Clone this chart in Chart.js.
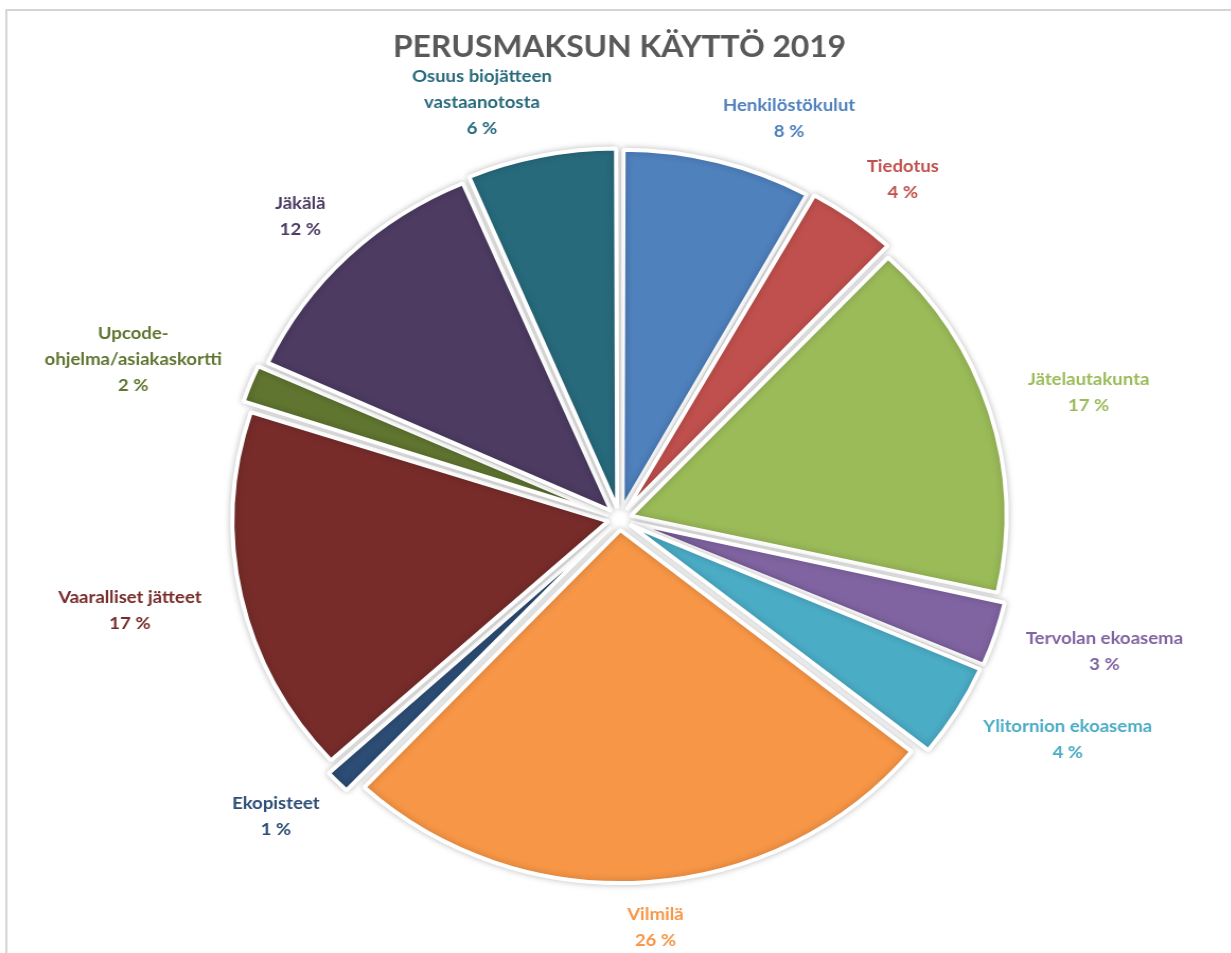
<!DOCTYPE html>
<html>
<head>
<meta charset="utf-8">
<title>Perusmaksun käyttö 2019</title>
<script src="https://cdn.jsdelivr.net/npm/chart.js@4.4.0/dist/chart.umd.min.js"></script>
<style>
  html, body { margin: 0; padding: 0; background: #fff; overflow: hidden; }
  /* alkuperäinen kuva on hieman leveämpi kuin korkea -> venytetään vaakasuunnassa */
  #wrap { position: relative; width: 1161px; height: 953px; transform: scaleX(1.06); transform-origin: 0 0; }
</style>
</head>
<body>
<div id="wrap"><canvas id="pie"></canvas></div>
<script>
// Luokat (rivitys kuten alkuperäisessä kuvassa)
const categories = [
  'Henkilöstökulut',
  'Tiedotus',
  'Jätelautakunta',
  'Tervolan ekoasema',
  'Ylitornion ekoasema',
  'Vilmilä',
  'Ekopisteet',
  'Vaaralliset jätteet',
  ['Upcode-', 'ohjelma/asiakaskortti'],
  'Jäkälä',
  ['Osuus biojätteen', 'vastaanotosta']
];

// Osuudet prosentteina (arvioitu kuvasta)
const shares = [8.1, 3.9, 16.5, 3.0, 4.3, 26.2, 1.2, 16.8, 1.8, 11.8, 6.4];

const sliceColors = [
  '#4F81BD', '#C0504D', '#9BBB59', '#8064A2', '#4BACC6', '#F79646',
  '#2C4D75', '#772C2A', '#5F7530', '#4D3B62', '#276A7C'
];

const FONT = 'Lato, "Open Sans", sans-serif';
const SLICE_OFFSET = 44; // Chart.js v4 siirtää sektoria offset/4 pikseliä

// Harmaa kehys kaavion ympärillä
const frame = {
  id: 'frame',
  beforeDraw(chart) {
    const { ctx } = chart;
    ctx.save();
    ctx.strokeStyle = '#d4d4d4';
    ctx.lineWidth = 2;
    ctx.strokeRect(6, 10, chart.width + 20, chart.height + 20);
    ctx.restore();
  }
};

// Pehmeä varjo sektoreille
const shadow = {
  id: 'shadow',
  beforeDatasetsDraw(chart) {
    const { ctx } = chart;
    ctx.save();
    ctx.shadowColor = 'rgba(0,0,0,0.22)';
    ctx.shadowBlur = 7;
  },
  afterDatasetsDraw(chart) {
    chart.ctx.restore();
  }
};

// Selitteet sektorien ulkopuolelle
const outsideLabels = {
  id: 'outsideLabels',
  afterDatasetsDraw(chart) {
    const { ctx } = chart;
    const meta = chart.getDatasetMeta(0);
    const lineH = 26;
    const clamp = v => Math.max(-1, Math.min(1, v));
    ctx.save();
    ctx.font = 'bold 17.5px ' + FONT;
    ctx.textAlign = 'center';
    ctx.textBaseline = 'middle';
    meta.data.forEach((arc, i) => {
      const { x, y, startAngle, endAngle, outerRadius } =
        arc.getProps(['x', 'y', 'startAngle', 'endAngle', 'outerRadius'], true);
      const mid = (startAngle + endAngle) / 2;
      const cos = Math.cos(mid), sin = Math.sin(mid);
      const name = categories[i];
      const lines = (Array.isArray(name) ? name : [name]).concat(Math.round(shares[i]) + ' %');
      const w = Math.max(...lines.map(l => ctx.measureText(l).width));
      const h = lines.length * lineH;
      const r = outerRadius + SLICE_OFFSET / 4 + 18 + 22 * Math.abs(cos);
      const cx = x + cos * r + clamp(4 * cos) * w / 2;
      const cy = y + sin * r + sin * h / 2;
      ctx.fillStyle = sliceColors[i];
      lines.forEach((l, k) => {
        ctx.fillText(l, cx, cy - h / 2 + lineH / 2 + k * lineH);
      });
    });
    ctx.restore();
  }
};

new Chart(document.getElementById('pie'), {
  type: 'pie',
  data: {
    labels: categories,
    datasets: [{
      data: shares,
      backgroundColor: sliceColors,
      borderColor: '#ffffff',
      borderWidth: 4,
      offset: SLICE_OFFSET
    }]
  },
  options: {
    responsive: true,
    maintainAspectRatio: false,
    animation: false,
    layout: { padding: { top: 0, bottom: 57, left: 8, right: 0 } },
    plugins: {
      legend: { display: false },
      tooltip: { enabled: false },
      title: {
        display: true,
        text: 'PERUSMAKSUN KÄYTTÖ 2019',
        color: '#595959',
        font: { family: FONT, size: 30, weight: 'bold' },
        padding: { top: 29, bottom: 77 }
      }
    }
  },
  plugins: [frame, shadow, outsideLabels]
});
</script>
</body>
</html>
